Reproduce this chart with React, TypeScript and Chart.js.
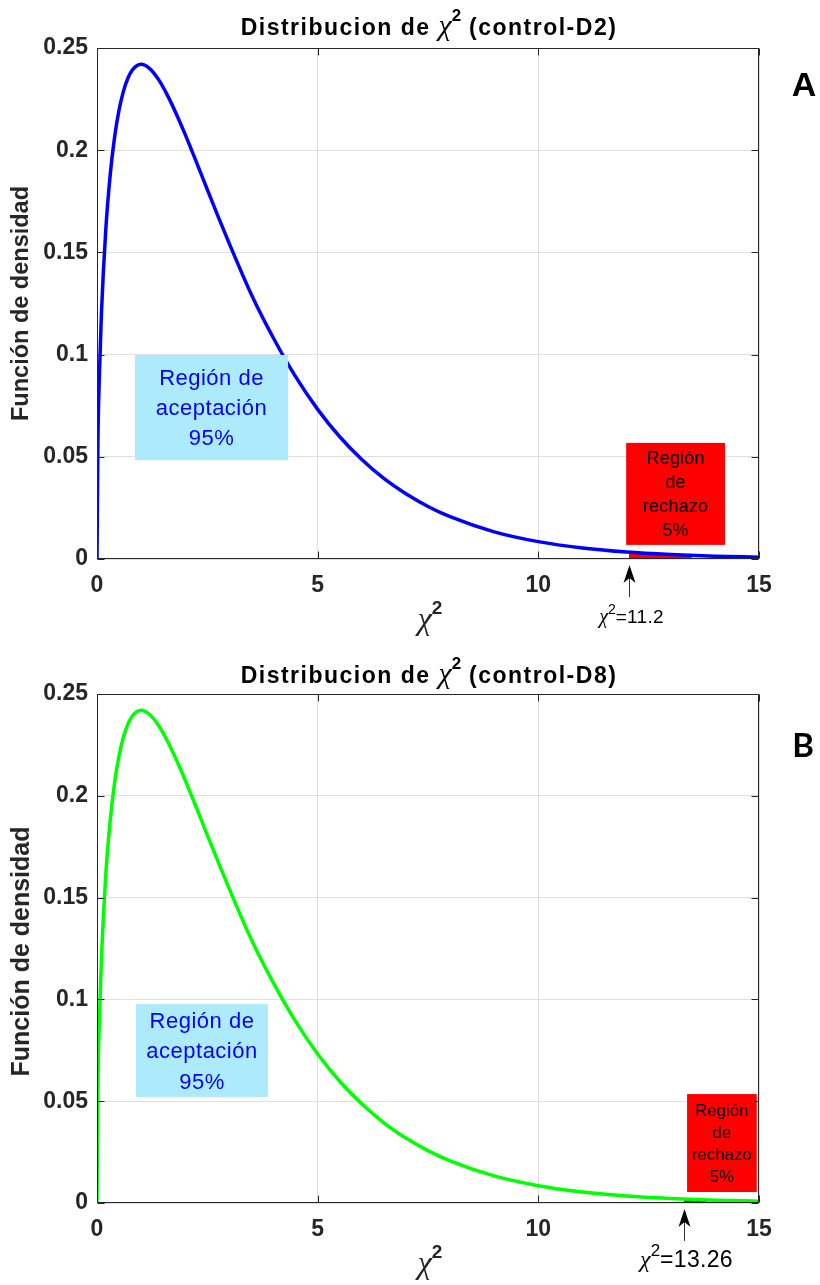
import React, { useEffect, useRef } from 'react';
import { Chart, registerables } from 'chart.js';

Chart.register(...registerables);

// ---------- data ----------
const chiX = [0, 0.02, 0.05, 0.1, 0.2, 0.3, 0.4, 0.5, 0.6, 0.7, 0.8, 0.9, 1.0, 1.2, 1.4, 1.6, 1.8, 2.0, 2.25, 2.5, 2.75, 3.0, 3.5, 4.0, 4.5, 5.0, 5.5, 6.0, 6.5, 7.0, 7.5, 8.0, 9.0, 10, 11, 12, 13, 14, 15];
const densityA = [0, 0.0559, 0.087, 0.12, 0.1614, 0.1881, 0.2066, 0.2197, 0.2289, 0.2352, 0.2392, 0.2413, 0.242, 0.2398, 0.2344, 0.2267, 0.2176, 0.2076, 0.1943, 0.1807, 0.1673, 0.1542, 0.1293, 0.108, 0.0892, 0.0732, 0.0598, 0.0487, 0.0394, 0.0319, 0.0257, 0.0207, 0.0133, 0.0085, 0.0054, 0.0034, 0.0022, 0.0014, 0.0009];
const densityB = [0, 0.0559, 0.087, 0.12, 0.1614, 0.1881, 0.2066, 0.2197, 0.2289, 0.2352, 0.2392, 0.2413, 0.242, 0.2398, 0.2344, 0.2267, 0.2176, 0.2076, 0.1943, 0.1807, 0.1673, 0.1542, 0.1293, 0.108, 0.0892, 0.0732, 0.0598, 0.0487, 0.0394, 0.0319, 0.0257, 0.0207, 0.0133, 0.0085, 0.0054, 0.0034, 0.0022, 0.0014, 0.0009];

const rejectAX = [12.05, 12.5, 13.0, 13.48];
const rejectAY = [0.0034, 0.0027, 0.0022, 0.0017];
const rejectBX = [13.3, 13.55, 13.82];
const rejectBY = [0.0019, 0.0017, 0.0015];

const xTicks = [0, 5, 10, 15];
const xTickLabels = ['0', '5', '10', '15'];
const yTicks = [0, 0.05, 0.1, 0.15, 0.2, 0.25];
const yTickLabels = ['0', '0.05', '0.1', '0.15', '0.2', '0.25'];

const critA = 12.05;
const critB = 13.3;

// ---------- styling ----------
const SANS = '"Liberation Sans", Arial, Helvetica, sans-serif';
const SERIF = '"Liberation Serif", "Times New Roman", serif';
const AXIS_COLOR = '#262626';
const GRID_COLOR = '#dfdfdf';

type Seg = { text: string; font: string; dy?: number; color?: string; w?: number; ls?: number };

function richText(ctx: any, segs: Seg[], cx: number, baseline: number) {
  let total = 0;
  for (const s of segs) {
    ctx.font = s.font;
    ctx.letterSpacing = `${s.ls || 0}px`;
    s.w = ctx.measureText(s.text).width;
    total += s.w;
  }
  let x = cx - total / 2;
  ctx.textAlign = 'left';
  ctx.textBaseline = 'alphabetic';
  for (const s of segs) {
    ctx.font = s.font;
    ctx.letterSpacing = `${s.ls || 0}px`;
    ctx.fillStyle = s.color || '#000';
    ctx.fillText(s.text, x, baseline + (s.dy || 0));
    x += s.w || 0;
  }
  ctx.letterSpacing = '0px';
}

const panels = [
  {
    id: 'A',
    height: 642,
    plotTop: 48,
    plotBottom: 559,
    color: '#0000ff',
    density: densityA,
    rejX: rejectAX,
    rejY: rejectAY,
    crit: critA,
    critText: '=11.2',
    critSize: 19,
    tag: '(control-D2)',
    titleBaseline: 35,
    yTitleSize: 23.5,
    yTitleShift: 0,
    letterFont: `bold 34px ${SANS}`,
    letterX: 804,
    letterY: 96,
    accept: { x0: 0.86, x1: 4.33, y0: 0.0484, y1: 0.0998, size: 22, lineH: 30 },
    reject: { x0: 11.99, x1: 14.23, y0: 0.0069, y1: 0.0568, size: 18, lineH: 24 },
  },
  {
    id: 'B',
    height: 643,
    plotTop: 52,
    plotBottom: 561,
    color: '#00ff00',
    density: densityB,
    rejX: rejectBX,
    rejY: rejectBY,
    crit: critB,
    critText: '=13.26',
    critSize: 23,
    tag: '(control-D8)',
    titleBaseline: 41,
    yTitleSize: 25,
    yTitleShift: 3,
    letterFont: `bold 33px Lato, "Open Sans", sans-serif`,
    letterX: 803,
    letterY: 115,
    accept: { x0: 0.884, x1: 3.875, y0: 0.0521, y1: 0.0977, size: 22, lineH: 30.5 },
    reject: { x0: 13.37, x1: 14.95, y0: 0.0054, y1: 0.0535, size: 16.5, lineH: 21.7 },
  },
];

type P = (typeof panels)[number];

function makePlugin(p: P) {
  return {
    id: 'decor' + p.id,
    afterDatasetsDraw(chart: any) {
      const { ctx, chartArea: a } = chart;
      const xs = chart.scales.x;
      const ys = chart.scales.y;
      ctx.save();

      const drawBox = (b: any, fill: string, color: string, lines: string[], ls: number) => {
        const x0 = xs.getPixelForValue(b.x0);
        const x1 = xs.getPixelForValue(b.x1);
        const yt = ys.getPixelForValue(b.y1);
        const yb = ys.getPixelForValue(b.y0);
        ctx.fillStyle = fill;
        ctx.fillRect(x0, yt, x1 - x0, yb - yt);
        const cx = (x0 + x1) / 2;
        const cy = (yt + yb) / 2;
        lines.forEach((t, i) =>
          richText(ctx, [{ text: t, font: `${b.size}px ${SANS}`, color, ls }], cx, cy + (i - (lines.length - 1) / 2) * b.lineH + b.size * 0.36)
        );
      };
      drawBox(p.accept, '#adebfc', '#0000ff', ['Región de', 'aceptación', '95%'], 0.5);
      drawBox(p.reject, '#ff0000', '#000000', ['Región', 'de', 'rechazo', '5%'], 0.2);

      // axes box
      ctx.strokeStyle = AXIS_COLOR;
      ctx.lineWidth = 1;
      const L = Math.round(a.left) + 0.5;
      const R = Math.round(a.right) - 0.5;
      const T = Math.round(a.top) + 0.5;
      const B = Math.round(a.bottom) - 0.5;
      ctx.beginPath();
      ctx.rect(L, T, R - L, B - T);
      const tl = 7;
      xTicks.forEach((v) => {
        const px = Math.round(xs.getPixelForValue(v)) + 0.5;
        ctx.moveTo(px, B);
        ctx.lineTo(px, B - tl);
        ctx.moveTo(px, T);
        ctx.lineTo(px, T + tl);
      });
      yTicks.forEach((v) => {
        const py = Math.round(ys.getPixelForValue(v)) + 0.5;
        ctx.moveTo(L, py);
        ctx.lineTo(L + tl, py);
        ctx.moveTo(R, py);
        ctx.lineTo(R - tl, py);
      });
      ctx.stroke();

      // arrow at critical value
      const ax = Math.round(xs.getPixelForValue(p.crit)) + 0.5;
      const tip = a.bottom + 6;
      const tail = a.bottom + 38;
      ctx.strokeStyle = '#333';
      ctx.beginPath();
      ctx.moveTo(ax, tip + 10);
      ctx.lineTo(ax, tail);
      ctx.stroke();
      ctx.fillStyle = '#000';
      ctx.beginPath();
      ctx.moveTo(ax, tip);
      ctx.lineTo(ax - 6, tip + 18);
      ctx.lineTo(ax, tip + 13);
      ctx.lineTo(ax + 6, tip + 18);
      ctx.closePath();
      ctx.fill();

      // critical value label
      const cs = p.critSize;
      richText(
        ctx,
        [
          { text: 'χ', font: `italic ${cs + 1}px ${SERIF}` },
          { text: '2', font: `${Math.round(cs * 0.72)}px ${SANS}`, dy: -cs * 0.48 },
          { text: p.critText, font: `${cs}px ${SANS}`, ls: 0.3 },
        ],
        ax + 2,
        a.bottom + 64
      );

      // x axis label
      richText(
        ctx,
        [
          { text: 'χ', font: `italic 32px ${SERIF}`, color: AXIS_COLOR },
          { text: '2', font: `bold 19px ${SANS}`, dy: -15, color: AXIS_COLOR },
        ],
        (a.left + a.right) / 2 + 2,
        a.bottom + 70
      );

      // title
      richText(
        ctx,
        [
          { text: 'Distribucion de ', font: `bold 23px ${SANS}`, ls: 1.5 },
          { text: 'χ', font: `italic 30px ${SERIF}` },
          { text: '2', font: `bold 17px ${SANS}`, dy: -14 },
          { text: ' ' + p.tag, font: `bold 23px ${SANS}`, ls: 1.5 },
        ],
        (a.left + a.right) / 2 + 1,
        p.titleBaseline
      );

      // y axis title
      ctx.save();
      ctx.translate(22, (a.top + a.bottom) / 2 + p.yTitleShift);
      ctx.rotate(-Math.PI / 2);
      ctx.font = `bold ${p.yTitleSize}px ${SANS}`;
      ctx.fillStyle = AXIS_COLOR;
      ctx.textAlign = 'center';
      ctx.textBaseline = 'middle';
      ctx.fillText('Función de densidad', 0, 0);
      ctx.restore();

      // panel letter
      ctx.font = p.letterFont;
      ctx.fillStyle = '#000';
      ctx.textAlign = 'center';
      ctx.textBaseline = 'alphabetic';
      ctx.fillText(p.id, p.letterX, p.letterY);

      ctx.restore();
    },
  };
}

function Panel({ p }: { p: P }) {
  const ref = useRef<HTMLCanvasElement>(null);
  useEffect(() => {
    if (!ref.current) return;
    const tickFont = { family: SANS, size: 23, weight: 'bold' as const };
    const chart = new Chart(ref.current, {
      type: 'line',
      data: {
        datasets: [
          {
            data: chiX.map((v, i) => ({ x: v, y: p.density[i] })),
            borderColor: p.color,
            borderWidth: 3.5,
            pointRadius: 0,
            fill: false,
            cubicInterpolationMode: 'monotone',
            borderJoinStyle: 'round',
          },
          {
            data: p.rejX.map((v, i) => ({ x: v, y: p.rejY[i] })),
            borderColor: 'rgba(0,0,0,0)',
            borderWidth: 0,
            backgroundColor: '#ff0000',
            pointRadius: 0,
            fill: 'origin',
          },
        ],
      },
      options: {
        responsive: false,
        animation: false,
        devicePixelRatio: 1,
        events: [],
        layout: { padding: { top: p.plotTop, right: 61, left: 0, bottom: 0 } },
        plugins: {
          legend: { display: false },
          tooltip: { enabled: false },
          title: { display: false },
        },
        scales: {
          x: {
            type: 'linear',
            min: 0,
            max: 15,
            afterBuildTicks: (s: any) => {
              s.ticks = xTicks.map((v) => ({ value: v }));
            },
            afterFit: (s: any) => {
              s.height = p.height - p.plotBottom;
            },
            ticks: {
              callback: (_v: any, i: number) => xTickLabels[i],
              font: tickFont,
              color: AXIS_COLOR,
              padding: 13,
              maxRotation: 0,
              autoSkip: false,
            },
            grid: { color: GRID_COLOR, drawTicks: false },
            border: { display: false },
          },
          y: {
            type: 'linear',
            min: 0,
            max: 0.25,
            afterBuildTicks: (s: any) => {
              s.ticks = yTicks.map((v) => ({ value: v }));
            },
            afterFit: (s: any) => {
              s.width = 97;
            },
            ticks: {
              callback: (_v: any, i: number) => yTickLabels[i],
              font: tickFont,
              color: AXIS_COLOR,
              padding: 9,
              autoSkip: false,
            },
            grid: { color: GRID_COLOR, drawTicks: false },
            border: { display: false },
          },
        },
      } as any,
      plugins: [makePlugin(p)],
    });
    return () => chart.destroy();
  }, []);
  return (
    <canvas
      ref={ref}
      width={820}
      height={p.height}
      style={{ display: 'block', width: 820, height: p.height }}
    />
  );
}

export default function App() {
  return (
    <div style={{ position: 'absolute', left: 0, top: 0, width: 820, height: 1285, background: '#fff' }}>
      {panels.map((p) => (
        <Panel key={p.id} p={p} />
      ))}
    </div>
  );
}
